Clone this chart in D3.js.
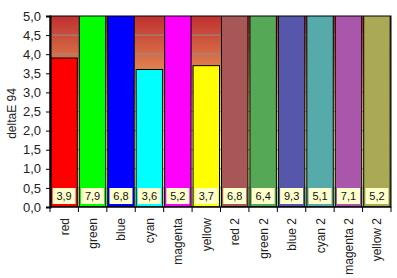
<!DOCTYPE html>
<html><head><meta charset="utf-8">
<script src="https://cdn.jsdelivr.net/npm/d3@7/dist/d3.min.js"></script>
<style>body{margin:0;background:#fff}svg{display:block}text{font-family:Arial,"Liberation Sans",sans-serif}</style>
</head><body><svg id="c" width="397" height="278"></svg>
<script>
const categories = ["red","green","blue","cyan","magenta","yellow","red 2","green 2","blue 2","cyan 2","magenta 2","yellow 2"];
const values = [3.9,7.9,6.8,3.6,5.2,3.7,6.8,6.4,9.3,5.1,7.1,5.2];
const colors = ["#ff0000","#00ff00","#0000ff","#00ffff","#ff00ff","#ffff00","#a85757","#55a855","#5656aa","#56aaaa","#aa56aa","#aaaa56"];
const yTicks = [0,0.5,1,1.5,2,2.5,3,3.5,4,4.5,5];
const yTitle = "deltaE 94";

const svg = d3.select("#c");
const L=50,R=391,T=16,B=207;
const x = d3.scaleBand().domain(categories).range([L,R]).paddingInner(0.07).paddingOuter(0.03);
const y = d3.scaleLinear().domain([0,5]).range([B,T]);
const fmt = d => d.toFixed(1).replace(".",",");

const defs = svg.append("defs");
const g = defs.append("linearGradient").attr("id","bg").attr("x1",0).attr("y1",0).attr("x2",0).attr("y2",1);
[[0,"#bf3030"],[0.22,"#d87048"],[0.45,"#eeb46e"],[0.68,"#fbec88"],[0.85,"#e8f890"],[1,"#a6ee88"]].forEach(s=>g.append("stop").attr("offset",s[0]).attr("stop-color",s[1]));
defs.append("clipPath").attr("id","clip").append("rect").attr("x",L).attr("y",T).attr("width",R-L).attr("height",B-T);

svg.append("rect").attr("x",L).attr("y",T).attr("width",R-L).attr("height",B-T).attr("fill","url(#bg)");
svg.append("g").selectAll("line").data(yTicks.slice(1,-1)).join("line")
  .attr("x1",L).attr("x2",R).attr("y1",d=>y(d)).attr("y2",d=>y(d)).attr("stroke","#909090").attr("stroke-width",1);

svg.append("g").attr("clip-path","url(#clip)").selectAll("rect").data(values).join("rect")
  .attr("x",(d,i)=>x(categories[i])).attr("width",x.bandwidth())
  .attr("y",d=>y(Math.min(d,5.05))).attr("height",d=>B-y(Math.min(d,5.05)))
  .attr("fill",(d,i)=>colors[i]).attr("stroke","#000").attr("stroke-width",1);

svg.append("rect").attr("x",L).attr("y",T).attr("width",R-L).attr("height",B-T).attr("fill","none").attr("stroke","#000").attr("stroke-width",1);

const lab = svg.append("g").selectAll("g").data(values).join("g")
  .attr("transform",(d,i)=>`translate(${x(categories[i])+x.bandwidth()/2},196)`);
lab.append("rect").attr("x",-11.5).attr("y",-8).attr("width",23).attr("height",16).attr("fill","#ffffcc");
lab.append("text").attr("text-anchor","middle").attr("dy","0.36em").attr("font-size",11).attr("fill","#111").text(d=>fmt(d));

const ya = svg.append("g").attr("transform",`translate(${L},0)`).call(d3.axisLeft(y).tickValues(yTicks).tickFormat(fmt).tickSize(4).tickPadding(5));
ya.select(".domain").attr("stroke","#000").attr("stroke-width",2);
ya.selectAll("text").attr("font-size",13).attr("fill","#222").attr("font-family","Arial,'Liberation Sans',sans-serif");

const xa = svg.append("g").attr("transform",`translate(0,${B})`);
xa.append("line").attr("x1",L).attr("x2",R).attr("stroke","#000");
const bounds = d3.range(categories.length+1).map(i=>L+(R-L)*i/categories.length);
xa.selectAll("line.t").data(bounds).join("line").attr("class","t").attr("x1",d=>d).attr("x2",d=>d).attr("y1",0).attr("y2",5).attr("stroke","#000");
xa.selectAll("text").data(categories).join("text")
  .attr("transform",d=>`translate(${x(d)+x.bandwidth()/2+4.5},11) rotate(-90)`)
  .attr("text-anchor","end").attr("font-size",12).attr("fill","#222").text(d=>d);

svg.append("text").attr("transform",`translate(16,${(T+B)/2+2}) rotate(-90)`).attr("text-anchor","middle")
  .attr("font-size",12).attr("fill","#222").text(yTitle);
</script></body></html>
